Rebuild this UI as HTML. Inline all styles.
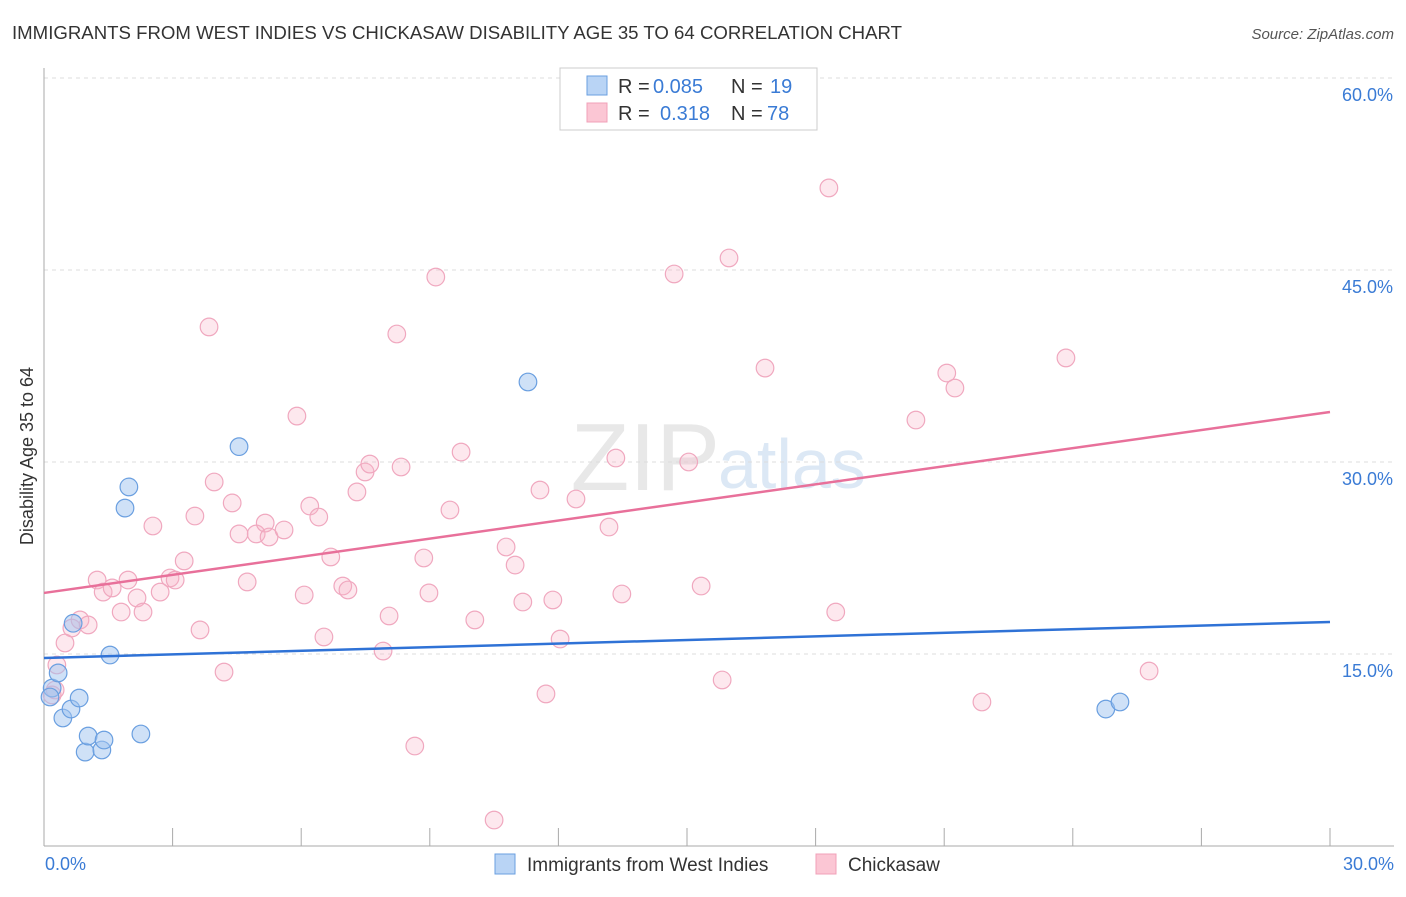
<!DOCTYPE html>
<html><head><meta charset="utf-8"><style>
body{margin:0;background:#fff;font-family:"Liberation Sans",sans-serif}
svg text{font-family:"Liberation Sans",sans-serif}
</style></head><body>
<svg id="chart" width="1406" height="892" xmlns="http://www.w3.org/2000/svg">
<text x="12" y="39" font-size="18" fill="#333" textLength="890" lengthAdjust="spacingAndGlyphs">IMMIGRANTS FROM WEST INDIES VS CHICKASAW DISABILITY AGE 35 TO 64 CORRELATION CHART</text>
<text x="1394" y="39" font-size="15" fill="#555" font-style="italic" text-anchor="end">Source: ZipAtlas.com</text>
<text x="720" y="490" font-size="96" fill="#e8e8e8" text-anchor="end" font-family="Liberation Serif">ZIP</text>
<text x="718" y="488" font-size="70" fill="#dce8f5">atlas</text>
<text transform="translate(33,456) rotate(-90)" font-size="18" fill="#333" text-anchor="middle">Disability Age 35 to 64</text>
<g id="grid"></g><g id="axes"></g><g id="pts"></g><g id="lines"></g>
<g>
<rect x="560" y="68" width="257" height="62" fill="#fff" stroke="#ccc"/>
<rect x="587" y="76" width="20" height="19" fill="#b9d4f5" stroke="#6a9fe0"/>
<rect x="587" y="103" width="20" height="19" fill="#fbc6d4" stroke="#f0a0b8"/>
<text x="618" y="93" font-size="20" fill="#333">R =</text>
<text x="653" y="93" font-size="20" fill="#3a7bd5">0.085</text>
<text x="731" y="93" font-size="20" fill="#333">N =</text>
<text x="770" y="93" font-size="20" fill="#3a7bd5">19</text>
<text x="618" y="120" font-size="20" fill="#333">R =</text>
<text x="660" y="120" font-size="20" fill="#3a7bd5">0.318</text>
<text x="731" y="120" font-size="20" fill="#333">N =</text>
<text x="767" y="120" font-size="20" fill="#3a7bd5">78</text>
</g>
<g>
<rect x="495" y="854" width="20" height="20" fill="#b9d4f5" stroke="#6a9fe0"/>
<text x="527" y="871" font-size="19" fill="#333">Immigrants from West Indies</text>
<rect x="816" y="854" width="20" height="20" fill="#fbc6d4" stroke="#f0a0b8"/>
<text x="848" y="871" font-size="19" fill="#333">Chickasaw</text>
</g>
</svg>
<script>
const yTicks=[15,30,45,60];
const yTickLabels=["15.0%","30.0%","45.0%","60.0%"];
const xTickLabels=["0.0%","30.0%"];
const blueX=[0.19,0.33,0.14,0.44,0.63,0.82,0.68,1.54,0.96,1.03,1.35,1.4,2.26,1.89,1.98,4.55,11.29,24.77,25.1];
const blueY=[12.34,13.52,11.64,10.0,10.7,11.56,17.4,14.92,7.34,8.59,7.5,8.28,8.75,26.4,28.05,31.2,36.25,10.7,11.25];
const pinkX=[0.30,0.26,0.19,0.49,0.65,0.84,1.03,1.24,1.38,1.59,1.80,1.96,2.17,2.31,2.54,2.71,2.94,3.06,3.27,3.52,3.64,3.85,3.97,4.20,4.39,4.55,4.74,4.95,5.16,5.25,5.60,5.90,6.07,6.20,6.41,6.53,6.69,6.97,7.09,7.30,7.49,7.60,7.91,8.05,8.23,8.33,8.65,8.86,8.98,9.14,9.47,9.73,10.05,10.50,10.78,10.99,11.17,11.57,11.71,11.87,12.04,12.41,13.18,13.34,13.48,14.70,15.04,15.33,15.82,15.98,16.82,18.31,18.47,20.34,21.06,21.25,21.88,23.84,25.78];
const pinkY=[14.14,12.19,11.8,15.86,17.03,17.66,17.27,20.78,19.84,20.16,18.28,20.78,19.38,18.28,25.0,19.84,20.94,20.78,22.27,25.78,16.88,40.55,28.44,13.59,26.8,24.38,20.63,24.38,25.23,24.14,24.69,33.59,19.61,26.56,25.7,16.33,22.58,20.31,20.0,27.66,29.22,29.84,15.23,17.97,40.0,29.61,7.81,22.5,19.77,44.45,26.25,30.78,17.66,2.03,23.36,21.95,19.06,27.81,11.88,19.22,16.17,27.11,24.92,30.31,19.69,44.69,30.0,20.31,12.97,45.94,37.34,51.41,18.28,33.28,36.95,35.78,11.25,38.13,13.67];
const blueTrend=[14.69,17.5];
const pinkTrend=[19.77,33.91];
const X=v=>44+v*1286/30, Y=v=>846-v*192/15;
const NS="http://www.w3.org/2000/svg";
function mk(t,p,a){const e=document.createElementNS(NS,t);for(const k in a)e.setAttribute(k,a[k]);p.appendChild(e);return e;}
const grid=document.getElementById('grid'),axes=document.getElementById('axes'),pts=document.getElementById('pts'),lines=document.getElementById('lines');
yTicks.forEach((t,i)=>{
 const l=mk('line',grid,{x1:44,x2:1394,y1:Y(t),y2:Y(t),stroke:'#ddd','stroke-dasharray':'4,4'});
 
 
 const tx=mk('text',axes,{x:1393,y:Y(t)+23,'font-size':18,fill:'#3a7bd5','text-anchor':'end'});
 tx.textContent=yTickLabels[i];
 
 
});
const ax=mk('line',axes,{x1:44,x2:44,y1:68,y2:846,stroke:'#aaa'});


const bx=mk('line',axes,{x1:44,x2:1394,y1:846,y2:846,stroke:'#aaa'});


for(let i=1;i<=10;i++){const t=mk('line',axes,{x1:X(i*3),x2:X(i*3),y1:828,y2:846,stroke:'#aaa'});
 
 }
[[0,'start',45],[30,'end',1394]].forEach((d,i)=>{const t=mk('text',axes,{x:d[2],y:870,'font-size':18,fill:'#3a7bd5','text-anchor':d[1]});t.textContent=xTickLabels[i];
 
 });
pinkX.forEach((x,i)=>{const c=mk('circle',pts,{cx:X(x),cy:Y(pinkY[i]),r:8.8,fill:'rgba(248,180,200,0.3)',stroke:'#f0a8bf','stroke-width':1.2});
 
 });
blueX.forEach((x,i)=>{const c=mk('circle',pts,{cx:X(x),cy:Y(blueY[i]),r:8.8,fill:'rgba(160,196,240,0.5)',stroke:'#6a9fe0','stroke-width':1.2});
 
 });
const pl=mk('line',lines,{x1:X(0),x2:X(30),y1:Y(pinkTrend[0]),y2:Y(pinkTrend[1]),stroke:'#e8709a','stroke-width':2.5});


const bl=mk('line',lines,{x1:X(0),x2:X(30),y1:Y(blueTrend[0]),y2:Y(blueTrend[1]),stroke:'#2f72d6','stroke-width':2.5});


</script>
</body></html>
